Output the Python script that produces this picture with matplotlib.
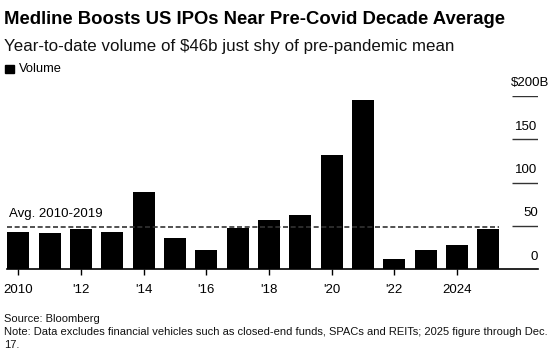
import matplotlib
matplotlib.use("Agg")
import matplotlib.pyplot as plt
from matplotlib.patches import Rectangle

plt.rcParams['font.family'] = ['Liberation Sans', 'DejaVu Sans']

years = list(range(2010, 2026))
volume = [42.5, 42, 46, 42.5, 89, 36, 22, 47.5, 57, 62.5, 132, 195, 12, 22, 27.5, 46]
avg_2010_2019 = 49
tick_years = [2010, 2012, 2014, 2016, 2018, 2020, 2022, 2024]
tick_labels = ['2010', "'12", "'14", "'16", "'18", "'20", "'22", '2024']
ytick_vals = [0, 50, 100, 150, 200]
ytick_labels = ['0', '50', '100', '150', '$200B']

W, H = 555, 355
fig = plt.figure(figsize=(W / 100, H / 100), dpi=100)

def fx(x):
    return x / W

def fy(y):
    return 1 - y / H

ax_left, ax_right, ax_top, ax_bottom = 7.3, 537.7, 95.7, 269.3
ax = fig.add_axes([fx(ax_left), fy(ax_bottom), (ax_right - ax_left) / W, (ax_bottom - ax_top) / H])

ax.bar(years, volume, width=0.70, color='black', zorder=2)
x0, x1 = 2009.65, 2026.58
ax.set_xlim(x0, x1)
ax.set_ylim(0, 200)

for s in ['top', 'right', 'left']:
    ax.spines[s].set_visible(False)
ax.spines['bottom'].set_linewidth(1.2)
ax.spines['bottom'].set_color('black')

ax.set_xticks(tick_years)
ax.set_xticklabels(tick_labels, fontsize=9.5, color='black')
ax.tick_params(axis='x', length=4.5, width=1, color='black', pad=6)
ax.set_yticks([])

# right-side short gridlines with labels above
for v, lab in zip(ytick_vals, ytick_labels):
    if v > 0:
        ax.hlines(v, 2025.75, x1, color='#333333', lw=1.0, zorder=1)
    ax.annotate(lab, xy=(x1, v), xytext=(0 if v < 200 else 8, 9), textcoords='offset points',
                ha='right', va='center', fontsize=9.5, color='black', annotation_clip=False)

# average line
ax.hlines(avg_2010_2019, x0, 2025.35, colors='#333333', lw=1.2,
          linestyles=(0, (3, 1.6)), zorder=3)
ax.annotate('Avg. 2010-2019', xy=(x0, avg_2010_2019), xytext=(1, 9), textcoords='offset points',
            ha='left', va='center', fontsize=9.5, color='black')

fig.text(fx(4), fy(20), 'Medline Boosts US IPOs Near Pre-Covid Decade Average',
         fontsize=13.3, fontweight='bold', ha='left', va='center', color='black')
fig.text(fx(4), fy(46), 'Year-to-date volume of $46b just shy of pre-pandemic mean',
         fontsize=12.2, ha='left', va='center', color='#111111')
fig.patches.append(Rectangle((fx(5.3), fy(72.5)), 8.5 / W, 7.5 / H, transform=fig.transFigure,
                             color='black'))
fig.text(fx(18.5), fy(69), 'Volume', fontsize=9.3, ha='left', va='center', color='black')

fig.text(fx(4), fy(319), 'Source: Bloomberg', fontsize=8.0, ha='left', va='center', color='#111111')
fig.text(fx(4), fy(332), 'Note: Data excludes financial vehicles such as closed-end funds, SPACs and REITs; 2025 figure through Dec.',
         fontsize=8.0, ha='left', va='center', color='#111111')
fig.text(fx(4), fy(345), '17.', fontsize=8.0, ha='left', va='center', color='#111111')

fig.savefig('out.png', dpi=100, facecolor='white')
